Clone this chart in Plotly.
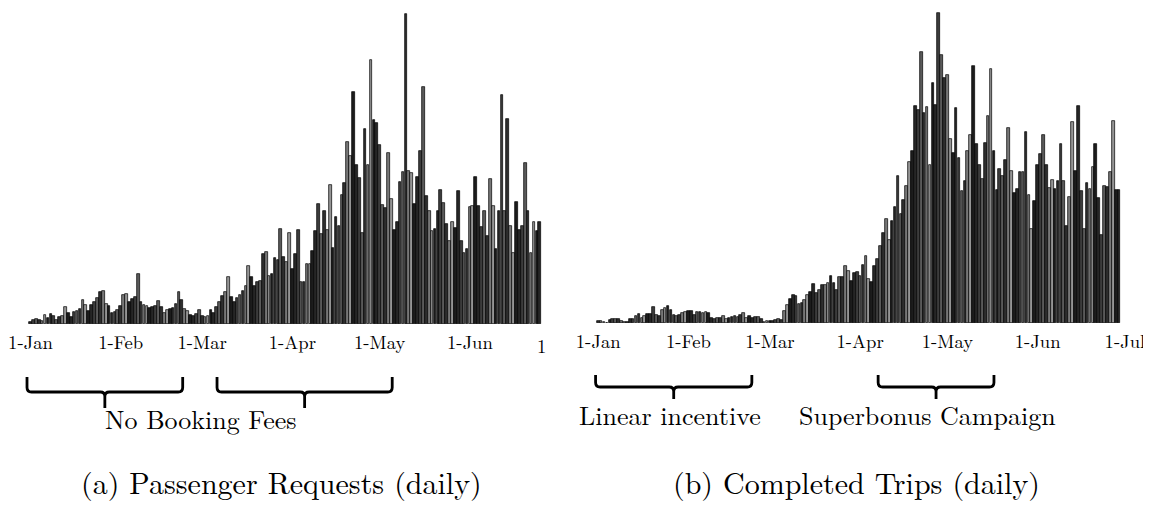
import plotly.graph_objects as go
import pandas as pd

# ---------------- data (relative daily heights) ----------------
passenger_requests = [
    2, 4, 5, 4, 3, 9, 6, 10, 8, 4,
    7, 8, 17, 11, 7, 12, 13, 15, 24, 19,
    13, 19, 22, 26, 32, 33, 20, 18, 11, 12,
    14, 18, 29, 30, 22, 25, 27, 50, 22, 19,
    18, 16, 17, 18, 23, 17, 11, 14, 15, 16,
    20, 32, 24, 15, 13, 9, 8, 10, 14, 8,
    7, 8, 14, 11, 17, 22, 28, 32, 47, 27,
    22, 26, 29, 33, 38, 58, 47, 38, 42, 43,
    70, 72, 48, 50, 66, 64, 95,
    67, 62, 91, 55, 70, 94, 42, 42, 60,
    60, 73, 93, 120, 90, 113, 94, 139, 76, 107,
    98, 129, 141, 182, 168, 232, 159, 146, 91, 195,
    159, 264, 204, 201, 179, 119, 116, 171, 125, 94,
    102, 142, 152, 310, 153, 151, 120, 147, 173, 237,
    128, 113, 93, 95, 113, 134, 121, 100, 83, 102,
    96, 133, 83, 71, 75, 117, 118, 147, 118, 97,
    113, 88, 145, 118, 75, 113, 229, 113, 205,
    98, 71, 122, 94, 98, 161, 113, 71, 102, 93,
    102,
]

completed_trips = [
    2, 2, 1, 0, 3, 4, 4, 4, 2, 1,
    1, 4, 4, 7, 9, 5, 7, 9, 9, 16,
    8, 7, 13, 15, 17, 13, 8, 7, 8, 10,
    11, 12, 12, 8, 11, 11, 10, 11, 10, 5,
    4, 5, 5, 7, 4, 5, 6, 7, 6, 8,
    10, 5, 7, 5, 6, 6, 4, 1, 2, 2,
    2, 3, 4, 3, 12, 18, 24, 28, 27, 19,
    20, 23, 28, 31, 39, 30, 33, 38, 38, 40,
    47, 40, 33, 46, 46, 57, 52, 42, 50, 51,
    47, 58, 67, 44, 41, 57, 64, 77, 90, 104,
    83, 102, 116, 147, 109, 123, 137, 161, 172, 217,
    213, 271, 210, 216, 158, 240, 218, 310, 268, 245,
    248, 184, 170, 215, 165, 132, 142, 172, 188, 257,
    179, 158, 144, 180, 207, 254, 172, 133, 154, 147,
    163, 195, 152, 130, 134, 151, 151, 191, 128, 94,
    122, 158, 169, 188, 158, 135, 143, 134, 142, 179,
    142, 97, 126, 201, 152, 217, 132, 94, 140, 134,
    156, 179, 125, 88, 137, 136, 151, 202, 133, 133,
]

start_date = "2017-01-01"
tick_dates = ["2017-01-01", "2017-02-01", "2017-03-01", "2017-04-01",
              "2017-05-01", "2017-06-01", "2017-07-01"]
tick_labels = ["1-Jan", "1-Feb", "1-Mar", "1-Apr", "1-May", "1-Jun", "1-Jul"]

caption_a = "(a) Passenger Requests (daily)"
caption_b = "(b) Completed Trips (daily)"
label_left = "No Booking Fees"
label_right_1 = "Linear incentive"
label_right_2 = "Superbonus Campaign"

# ---------------- helpers ----------------
# The page body adds an 8 px margin, so the figure is 8 px smaller and
# positions below are given in window pixels and shifted by that offset.
OFF = 8
W, H = 1151 - OFF, 508 - OFF
FONT = "Latin Modern Roman, Liberation Serif, serif"
DAY_MS = 86400000
start = pd.Timestamp(start_date)


def px(x):
    return (x - OFF) / W


def py(y):
    return 1 - (y - OFF) / H


def ms(days):
    return (start + pd.Timedelta(days=days)).value / 1e6


shade_cycle = ["#262626", "#3c3c3c", "#5a5a5a", "#2e2e2e", "#777777", "#959595", "#1c1c1c"]

req_dates = pd.date_range(start, periods=len(passenger_requests), freq="D")
trip_dates = pd.date_range(start, periods=len(completed_trips), freq="D")

fig = go.Figure()
fig.add_trace(go.Bar(
    x=req_dates, y=passenger_requests, xaxis="x", yaxis="y",
    width=DAY_MS * 0.92,
    marker=dict(color=[shade_cycle[i % 7] for i in range(len(passenger_requests))],
                line=dict(color="#000000", width=0.7)),
    showlegend=False,
))
fig.add_trace(go.Bar(
    x=trip_dates, y=completed_trips, xaxis="x2", yaxis="y2",
    width=DAY_MS * 0.92,
    marker=dict(color=[shade_cycle[(i + 3) % 7] for i in range(len(completed_trips))],
                line=dict(color="#000000", width=0.7)),
    showlegend=False,
))

axis_common = dict(
    type="date", tickmode="array", tickvals=tick_dates, ticktext=tick_labels,
    showgrid=False, zeroline=False, showline=False, ticks="", automargin=False,
    ticklabelstandoff=5, ticklabeloverflow="allow",
    tickfont=dict(family=FONT, size=18.7, color="#000000"),
)

# window-pixel geometry: Jan 1 at ~30.5 px (left) / 598.2 px (right), ~2.91 px per day
left_x0, left_ppd = 30.5, 2.91
right_x0, right_ppd = 598.2, 2.91
left_end, right_start = 545, 560

fig.update_layout(
    width=W, height=H,
    margin=dict(l=0, r=0, t=0, b=0, autoexpand=False),
    paper_bgcolor="white", plot_bgcolor="white",
    bargap=0,
    xaxis=dict(domain=[0, px(left_end)],
               range=[ms((OFF - left_x0) / left_ppd), ms((left_end - left_x0) / left_ppd)],
               anchor="y", **axis_common),
    yaxis=dict(domain=[py(324), 1], range=[0, 324 - OFF], visible=False, automargin=False),
    xaxis2=dict(domain=[px(right_start), 1],
                range=[ms((right_start - right_x0) / right_ppd), ms((1151 - right_x0) / right_ppd)],
                anchor="y2", **axis_common),
    yaxis2=dict(domain=[py(323), 1], range=[0, 323 - OFF], visible=False, automargin=False),
)


def brace(d0, d1, y_top, y_line, y_tip, xref, ppd):
    rx = 4.5 / ppd
    ry = 4.5 / H
    xc = (d0 + d1) / 2
    yt, yl, yb = py(y_top), py(y_line), py(y_tip)
    p = (f"M {ms(d0)},{yt} L {ms(d0)},{yl + ry} Q {ms(d0)},{yl} {ms(d0 + rx)},{yl} "
         f"L {ms(xc - rx)},{yl} Q {ms(xc)},{yl} {ms(xc)},{yl - ry} L {ms(xc)},{yb} "
         f"M {ms(xc)},{yl - ry} Q {ms(xc)},{yl} {ms(xc + rx)},{yl} "
         f"L {ms(d1 - rx)},{yl} Q {ms(d1)},{yl} {ms(d1)},{yl + ry} L {ms(d1)},{yt}")
    return dict(type="path", path=p, xref=xref, yref="paper",
                line=dict(color="#000000", width=2.8), layer="above")


shapes = [
    brace(-1.2, 52.3, 377, 392, 408, "x", left_ppd),
    brace(64.1, 124.3, 377, 392, 408, "x", left_ppd),
    brace(-0.9, 52.8, 375, 387, 399, "x2", right_ppd),
    brace(96.2, 136.0, 375, 387, 399, "x2", right_ppd),
]
fig.update_layout(shapes=shapes)

ann_font = dict(family=FONT, size=26, color="#000000")
cap_font = dict(family=FONT, size=30, color="#000000")
annotations = [
    dict(text=label_left, x=px(201), y=py(418), xref="paper", yref="paper",
         showarrow=False, font=ann_font, xanchor="center", yanchor="middle"),
    dict(text=label_right_1, x=px(670), y=py(414), xref="paper", yref="paper",
         showarrow=False, font=ann_font, xanchor="center", yanchor="middle"),
    dict(text=label_right_2, x=px(927), y=py(414), xref="paper", yref="paper",
         showarrow=False, font=ann_font, xanchor="center", yanchor="middle"),
    dict(text=caption_a, x=px(281), y=py(481), xref="paper", yref="paper",
         showarrow=False, font=cap_font, xanchor="center", yanchor="middle"),
    dict(text=caption_b, x=px(856), y=py(481), xref="paper", yref="paper",
         showarrow=False, font=cap_font, xanchor="center", yanchor="middle"),
    # clipped remnant of the left panel's "1-Jul" tick label
    dict(text="1", x=px(535), y=py(345), xref="paper", yref="paper",
         showarrow=False, font=dict(family=FONT, size=18.7, color="#000000"),
         xanchor="left", yanchor="middle"),
]
fig.update_layout(annotations=annotations)

fig.write_html("out.html")
